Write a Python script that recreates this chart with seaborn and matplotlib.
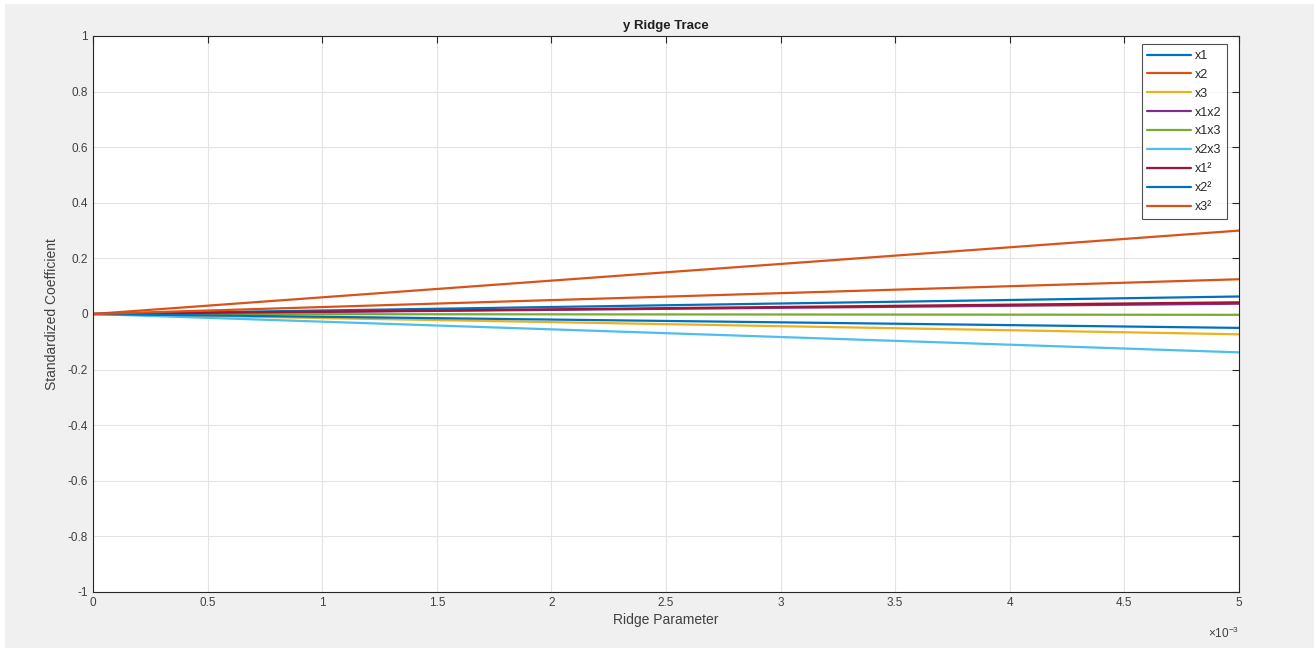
import pandas as pd
import numpy as np
import seaborn as sns
import matplotlib.pyplot as plt
from matplotlib.ticker import FuncFormatter, MultipleLocator
from matplotlib.patches import Rectangle

# ============================================================
# DATA
# ============================================================
ridge_k = [0.0, 0.005]
terms = ["x1", "x2", "x3", "x1x2", "x1x3", "x2x3", "x1²", "x2²", "x3²"]
coef_end = [0.063, 0.300, -0.073, 0.037, -0.003, -0.138, 0.042, -0.050, 0.125]
colors = ["#0072BD", "#D95319", "#EDB120", "#7E2F8E", "#77AC30",
          "#4DBEEE", "#A2142F", "#0072BD", "#D95319"]

rows = []
for term, c in zip(terms, coef_end):
    rows.append({"k": ridge_k[0], "term": term, "coef": 0.0})
    rows.append({"k": ridge_k[1], "term": term, "coef": c})
df = pd.DataFrame(rows)

# ============================================================
# PLOT
# ============================================================
sns.set_style("white")
plt.rcParams['font.family'] = ['Liberation Sans', 'DejaVu Sans']
plt.rcParams['mathtext.fontset'] = 'custom'
plt.rcParams['mathtext.rm'] = 'Liberation Sans'

fig = plt.figure(figsize=(13.14, 6.48), dpi=100)
fig.patch.set_facecolor("white")
fig.patches.append(Rectangle((5 / 1314, 0), 1, 644 / 648, transform=fig.transFigure,
                             facecolor="#f0f0f0", edgecolor="none", zorder=-10))
ax = fig.add_axes([93 / 1314, 1 - 592 / 648, (1239 - 93) / 1314, (592 - 36) / 648])
ax.set_facecolor("white")

sns.lineplot(data=df, x="k", y="coef", hue="term", hue_order=terms,
             palette=colors, linewidth=1.6, ax=ax, legend=True)

ax.set_xlim(0, 0.005)
ax.set_ylim(-1, 1)
ax.xaxis.set_major_locator(MultipleLocator(0.0005))
ax.yaxis.set_major_locator(MultipleLocator(0.2))
ax.xaxis.set_major_formatter(FuncFormatter(lambda v, p: f"{round(v * 1e3, 6):g}"))
ax.yaxis.set_major_formatter(FuncFormatter(lambda v, p: f"{round(v, 6) + 0:g}"))

ax.grid(True, color="#e3e3e3", linewidth=0.8)
ax.set_axisbelow(True)
for s in ax.spines.values():
    s.set_color("#262626")
    s.set_linewidth(0.8)
ax.tick_params(direction="in", length=5, width=0.8, colors="#262626",
               labelsize=8.5, top=True, right=True, labelcolor="#404040")

ax.set_title("y Ridge Trace", fontsize=9.5, fontweight="bold", pad=5, color="#202020")
ax.set_xlabel("Ridge Parameter", fontsize=10, color="#404040", labelpad=3)
ax.set_ylabel("Standardized Coefficient", fontsize=10, color="#404040", labelpad=6)
ax.text(1.0, -0.06, r"$\times10^{-3}$", transform=ax.transAxes, ha="right",
        va="top", fontsize=8.5, color="#404040")

leg = ax.legend(loc="upper right", bbox_to_anchor=(0.9895, 0.985), fontsize=9,
                frameon=True, fancybox=False, edgecolor="#262626",
                handlelength=3.5, handletextpad=0.3, labelspacing=0.55,
                borderpad=0.45, borderaxespad=0)
leg.get_frame().set_linewidth(0.8)
for line in leg.get_lines():
    line.set_linewidth(1.6)

plt.savefig("out.png", dpi=100, facecolor=fig.get_facecolor())
